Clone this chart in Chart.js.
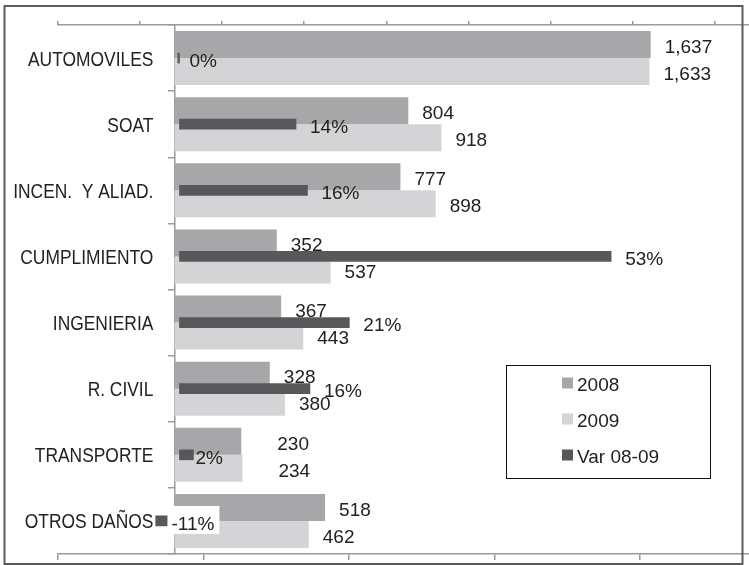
<!DOCTYPE html>
<html>
<head>
<meta charset="utf-8">
<script src="https://cdn.jsdelivr.net/npm/chart.js@4.4.1/dist/chart.umd.min.js"></script>
<style>
  html, body { margin: 0; padding: 0; background: #fff; }
</style>
</head>
<body>
<canvas id="chart" width="749" height="565"></canvas>
<script>
// data
const categories = ['AUTOMOVILES', 'SOAT', 'INCEN.  Y ALIAD.', 'CUMPLIMIENTO', 'INGENIERIA', 'R. CIVIL', 'TRANSPORTE', 'OTROS DAÑOS'];
const values2008 = [1637, 804, 777, 352, 367, 328, 230, 518];
const values2009 = [1633, 918, 898, 537, 443, 380, 234, 462];
const variation = [-0.2, 14.2, 15.6, 52.6, 20.7, 15.9, 1.7, -10.8];   // percent
const legendLabels = ['2008', '2009', 'Var 08-09'];
const bottomTicks = [-400, 100, 600, 1100, 1600];
const topTicks = [-14.8, -4.8, 5.2, 15.2, 25.2, 35.2, 45.2, 55.2, 65.2];

const c2008 = '#a7a7aa';
const c2009 = '#d4d4d6';
const cVar = '#58585b';
const axisColor = '#9a9a9a';
const textColor = '#222';
const numFont = '19px "Liberation Sans", Arial, sans-serif';
const catFont = '20px "Liberation Sans", Arial, sans-serif';
const catSqueeze = 0.87;   // category font in the picture is a narrow face

const labelsPlugin = {
  id: 'labelsAndFrame',
  afterDraw(chart) {
    const ctx = chart.ctx;
    const yScale = chart.scales.y;
    const zero = chart.scales.x2.getPixelForValue(0);
    ctx.save();
    ctx.textBaseline = 'middle';

    // category labels, white backdrop hides what runs behind them
    ctx.font = catFont;
    ctx.textAlign = 'right';
    const right = chart.scales.x.getPixelForValue(0) - 21;
    categories.forEach((cat, i) => {
      const y = yScale.getPixelForTick(i) + 2;
      const w = ctx.measureText(cat).width * catSqueeze;
      ctx.fillStyle = '#fff';
      ctx.fillRect(right - w - 2, y - 11, w + 4, 22);
      ctx.save();
      ctx.translate(right, y);
      ctx.scale(catSqueeze, 1);
      ctx.fillStyle = textColor;
      ctx.fillText(cat, 0, 0);
      ctx.restore();
    });

    ctx.font = numFont;
    ctx.textAlign = 'left';
    ctx.fillStyle = textColor;
    // value labels for 2008 / 2009
    [[1, values2008], [2, values2009]].forEach(([di, vals]) => {
      chart.getDatasetMeta(di).data.forEach((bar, i) => {
        let gap = 14;
        if (categories[i] === 'TRANSPORTE') gap = 36;
        ctx.fillText(vals[i].toLocaleString('en-US'), bar.x + gap, bar.y + 3);
      });
    });

    // variation labels
    chart.getDatasetMeta(0).data.forEach((bar, i) => {
      const v = variation[i];
      const txt = Math.round(v) + '%';
      let x;
      if (v >= 5) x = bar.x + 14;
      else if (v >= 0.5) x = bar.x + 2;
      else if (v > -1) x = zero + 10;
      else {
        x = zero - 8;
        const w = ctx.measureText(txt).width;
        ctx.fillStyle = '#fff';
        ctx.fillRect(x - 4, bar.y - 15, w + 9, 28);
        ctx.fillStyle = textColor;
      }
      ctx.fillText(txt, x, bar.y + 3.5);
    });

    // legend box
    ctx.strokeStyle = '#111';
    ctx.lineWidth = 1;
    ctx.strokeRect(506.5, 365.5, 204, 113);
    const colors = [c2008, c2009, cVar];
    legendLabels.forEach((lab, i) => {
      const cy = 386 + i * 36;
      ctx.fillStyle = colors[i];
      ctx.fillRect(562, cy - 8.5, 11, 11);
      ctx.fillStyle = textColor;
      ctx.fillText(lab, 577, cy);
    });

    // outer frame
    ctx.strokeStyle = '#5a5a5a';
    ctx.lineWidth = 2;
    ctx.strokeRect(4.5, 6, 738, 558);
    ctx.restore();
  }
};

new Chart(document.getElementById('chart'), {
  type: 'bar',
  data: {
    labels: categories,
    datasets: [
      { label: legendLabels[2], data: variation, xAxisID: 'x2', yAxisID: 'y',
        backgroundColor: cVar, barThickness: 10, grouped: false, order: 0 },
      { label: legendLabels[0], data: values2008, xAxisID: 'x', yAxisID: 'y',
        backgroundColor: c2008, categoryPercentage: 54 / 66, barPercentage: 1, order: 1 },
      { label: legendLabels[1], data: values2009, xAxisID: 'x', yAxisID: 'y',
        backgroundColor: c2009, categoryPercentage: 54 / 66, barPercentage: 1, order: 2 }
    ]
  },
  options: {
    indexAxis: 'y',
    responsive: false,
    animation: false,
    layout: { padding: { left: 58, top: 21, right: 0, bottom: 5 } },
    plugins: { legend: { display: false }, tooltip: { enabled: false } },
    scales: {
      x: {
        type: 'linear', axis: 'x', position: 'bottom', min: -400, max: 1975,
        afterBuildTicks: s => { s.ticks = bottomTicks.map(v => ({ value: v })); },
        ticks: { display: false },
        grid: { drawOnChartArea: false, tickLength: 6, color: axisColor, lineWidth: 1.5 },
        border: { color: axisColor, width: 1.5 }
      },
      x2: {
        type: 'linear', axis: 'x', position: 'top', min: -14.8, max: 69.4,
        afterBuildTicks: s => { s.ticks = topTicks.map(v => ({ value: v })); },
        ticks: { display: false },
        grid: { drawOnChartArea: false, tickLength: 4, color: axisColor, lineWidth: 1.5 },
        border: { color: axisColor, width: 1.5 }
      },
      y: {
        type: 'category', axis: 'y', position: { x: 0 }, z: 1,
        grid: { drawOnChartArea: false, offset: true, tickLength: 6, color: axisColor, lineWidth: 1.5 },
        border: { color: axisColor, width: 1.5 },
        ticks: { display: false, autoSkip: false }
      }
    }
  },
  plugins: [labelsPlugin]
});
</script>
</body>
</html>
